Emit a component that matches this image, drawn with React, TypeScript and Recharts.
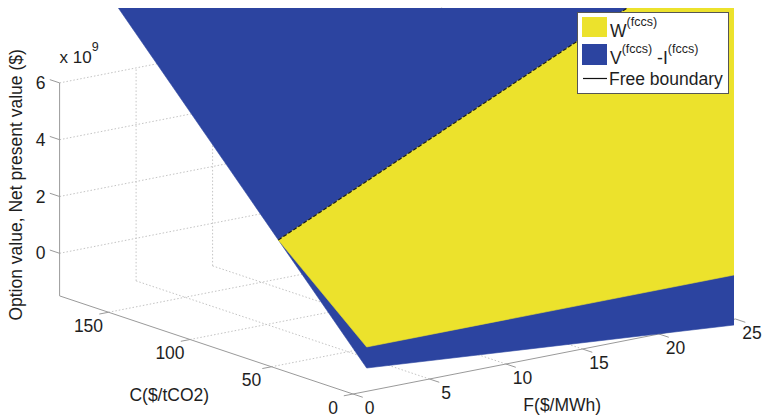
import { Scatter, ScatterChart, XAxis, YAxis } from "recharts";

const WIDTH = 764;
const HEIGHT = 419;
const FONT = "'Liberation Sans', Arial, Helvetica, sans-serif";

const BLUE = "#2c44a0";
const YELLOW = "#ece22c";
const GRID = "#c4c4c4";
const AXIS = "#9a9a9a";
const TEXT = "#1e1e1e";

// axis box limits (value axis in units of 1e9 $)
const F_LIM = [0, 25];
const C_LIM = [0, 180];
const Z_LIM = [-1.5, 6];

const F_TICKS = [0, 5, 10, 15, 20, 25];
const C_TICKS = [0, 50, 100, 150];
const Z_TICKS = [0, 2, 4, 6];

// surface grid corners — surfaces run past the F axis and get cut by the frame
const GRID_F = [1, 40];
const GRID_C = [1, 180];
// V(fccs) - I(fccs) at the low / high C edge, one value per GRID_F
const NPV_AT_C_MIN = [-0.71, -2.37];
const NPV_AT_C_MAX = [10.75, 9.09];
// W(fccs) along the low C edge
const OPTION_AT_C_MIN = [0.03, 0.03];
// free boundary C*(F) and the value on it (W = V - I there)
const BOUNDARY_C = [55.2, 150];
const BOUNDARY_Z = [2.76, 7.17];

type P3 = [number, number, number];

// oblique view of the 3-D box, chart units are px (v up)
const VIEW = { u0: 353, v0: 25, uF: 15.3, vF: 3.0, uC: -1.63, vC: 0.545, vZ: 28.4 };
const project = ([f, c, z]: P3) => ({
  x: VIEW.u0 + VIEW.uF * f + VIEW.uC * c,
  y: VIEW.v0 + VIEW.vF * f + VIEW.vC * c + VIEW.vZ * (z - Z_LIM[0]),
});

const [f0, f1] = F_LIM;
const [c0, c1] = C_LIM;
const [zMin, zMax] = Z_LIM;

const gridSegments: P3[][] = [
  ...Z_TICKS.map((z) => [[f0, c1, z], [f1, c1, z]] as P3[]),
  ...F_TICKS.slice(1).map((f) => [[f, c1, zMin], [f, c1, zMax]] as P3[]),
  ...F_TICKS.slice(1, -1).map((f) => [[f, c0, zMin], [f, c1, zMin]] as P3[]),
  ...C_TICKS.slice(1).map((c) => [[f0, c, zMin], [f1, c, zMin]] as P3[]),
];

const axisSegments: P3[][] = [
  [[f0, c1, zMin], [f0, c1, zMax]],
  [[f0, c0, zMin], [f0, c1, zMin]],
  [[f0, c0, zMin], [f1, c0, zMin]],
  ...Z_TICKS.map((z) => [[f0, c1, z], [f0, c1 + 6, z]] as P3[]),
  ...C_TICKS.map((c) => [[f0, c, zMin], [f0 - 0.6, c, zMin]] as P3[]),
  ...F_TICKS.map((f) => [[f, c0, zMin], [f, c0 - 6, zMin]] as P3[]),
];

const npvSurface: P3[] = [
  [GRID_F[0], GRID_C[0], NPV_AT_C_MIN[0]],
  [GRID_F[1], GRID_C[0], NPV_AT_C_MIN[1]],
  [GRID_F[1], GRID_C[1], NPV_AT_C_MAX[1]],
  [GRID_F[0], GRID_C[1], NPV_AT_C_MAX[0]],
];
const optionSurface: P3[] = [
  [GRID_F[0], GRID_C[0], OPTION_AT_C_MIN[0]],
  [GRID_F[1], GRID_C[0], OPTION_AT_C_MIN[1]],
  [GRID_F[1], BOUNDARY_C[1], BOUNDARY_Z[1]],
  [GRID_F[0], BOUNDARY_C[0], BOUNDARY_Z[0]],
];
const boundary: P3[] = GRID_F.map((f, i) => [f, BOUNDARY_C[i], BOUNDARY_Z[i]] as P3);

const noDot = () => <g />;

const polygon = (fill: string) => (p: any) => (
  <path
    d={p.points.map((q: any, i: number) => `${i ? "L" : "M"}${q.x},${q.y}`).join("") + "Z"}
    fill={fill}
    stroke={fill}
    strokeWidth={0.6}
  />
);

const textShape =
  (o: { dx: number; dy: number; anchor: string; size?: number; rotate?: boolean }) => (p: any) => {
    const x = p.cx + o.dx;
    const y = p.cy + o.dy;
    return (
      <text
        x={x}
        y={y}
        textAnchor={o.anchor}
        dominantBaseline="central"
        fontSize={o.size ?? 17.5}
        fontFamily={FONT}
        fill={TEXT}
        transform={o.rotate ? `rotate(-90 ${x} ${y})` : undefined}
      >
        {p.payload.text}
      </text>
    );
  };

const exponentShape = (p: any) => (
  <text x={p.cx} y={p.cy - 20} fontSize={17} fontFamily={FONT} fill={TEXT}>
    x 10
    <tspan dy={-12} fontSize={12.5}>
      9
    </tspan>
  </text>
);

const labels = (pts: P3[], texts: string[]) => pts.map((p, i) => ({ ...project(p), text: texts[i] }));

function Axes3D() {
  return (
    <ScatterChart width={WIDTH} height={HEIGHT} margin={{ top: 0, right: 0, bottom: 0, left: 0 }}>
      <XAxis type="number" dataKey="x" domain={[0, WIDTH]} allowDataOverflow hide />
      <YAxis type="number" dataKey="y" domain={[0, HEIGHT]} allowDataOverflow hide />
      {gridSegments.map((s, i) => (
        <Scatter
          key={`g${i}`}
          data={s.map(project)}
          line={{ stroke: GRID, strokeWidth: 1, strokeDasharray: "1.5 2" }}
          lineType="joint"
          shape={noDot}
          isAnimationActive={false}
        />
      ))}
      {axisSegments.map((s, i) => (
        <Scatter
          key={`a${i}`}
          data={s.map(project)}
          line={{ stroke: AXIS, strokeWidth: 1 }}
          lineType="joint"
          shape={noDot}
          isAnimationActive={false}
        />
      ))}
      <Scatter
        data={labels(Z_TICKS.map((z) => [f0, c1, z] as P3), Z_TICKS.map(String))}
        shape={textShape({ dx: -14, dy: 0, anchor: "end" })}
        isAnimationActive={false}
      />
      <Scatter
        data={labels(C_TICKS.map((c) => [f0, c, zMin] as P3), C_TICKS.map(String))}
        shape={textShape({ dx: -20, dy: 13.5, anchor: "middle" })}
        isAnimationActive={false}
      />
      <Scatter
        data={labels(F_TICKS.map((f) => [f, c0, zMin] as P3), F_TICKS.map(String))}
        shape={textShape({ dx: 16.5, dy: 13.5, anchor: "middle" })}
        isAnimationActive={false}
      />
      <Scatter
        data={labels([[f0, c1, 2.25]], ["Option value, Net present value ($)"])}
        shape={textShape({ dx: -44, dy: -4.5, anchor: "middle", rotate: true })}
        isAnimationActive={false}
      />
      <Scatter
        data={labels([[f0, 90, zMin]], ["C($/tCO2)"])}
        shape={textShape({ dx: -37, dy: 50.5, anchor: "middle" })}
        isAnimationActive={false}
      />
      <Scatter
        data={labels([[12.5, c0, zMin]], ["F($/MWh)"])}
        shape={textShape({ dx: 18, dy: 48.5, anchor: "middle" })}
        isAnimationActive={false}
      />
      <Scatter data={[project([f0, c1, zMax])]} shape={exponentShape} isAnimationActive={false} />
    </ScatterChart>
  );
}

const CLIP_RIGHT = 734;
const CLIP_TOP = 8;

function Surfaces() {
  const h = HEIGHT - CLIP_TOP;
  return (
    <ScatterChart width={CLIP_RIGHT} height={h} margin={{ top: 0, right: 0, bottom: 0, left: 0 }}>
      <XAxis type="number" dataKey="x" domain={[0, CLIP_RIGHT]} allowDataOverflow hide />
      <YAxis type="number" dataKey="y" domain={[0, h]} allowDataOverflow hide />
      <Scatter data={npvSurface.map(project)} line={polygon(BLUE)} lineType="joint" shape={noDot} isAnimationActive={false} />
      <Scatter data={optionSurface.map(project)} line={polygon(YELLOW)} lineType="joint" shape={noDot} isAnimationActive={false} />
      <Scatter
        data={boundary.map(project)}
        line={{ stroke: "#1a1a1a", strokeWidth: 1.2, strokeDasharray: "4 2" }}
        lineType="joint"
        shape={noDot}
        isAnimationActive={false}
      />
    </ScatterChart>
  );
}

function LegendBox() {
  return (
    <svg width={WIDTH} height={HEIGHT} style={{ position: "absolute", left: 0, top: 0, pointerEvents: "none" }}>
      <g fontFamily={FONT} fill={TEXT}>
        <rect x={577.5} y={12.5} width={151} height={81} fill="#fff" stroke="#555" strokeWidth={1} />
        <rect x={582} y={17} width={25} height={20} fill={YELLOW} />
        <text x={610} y={37} fontSize={17.5}>
          W
          <tspan dy={-11} fontSize={12.5}>
            (fccs)
          </tspan>
        </text>
        <rect x={582} y={44} width={25} height={21} fill={BLUE} />
        <text x={610} y={64} fontSize={17.5}>
          V
          <tspan dy={-11} fontSize={12.5}>
            (fccs)
          </tspan>
          <tspan dy={11}> -I</tspan>
          <tspan dy={-11} fontSize={12.5}>
            (fccs)
          </tspan>
        </text>
        <line x1={583} x2={607} y1={78.5} y2={78.5} stroke="#111" strokeWidth={1.2} />
        <text x={609} y={85} fontSize={17.5}>
          Free boundary
        </text>
      </g>
    </svg>
  );
}

export default function App() {
  return (
    <div style={{ position: "absolute", left: 0, top: 0, width: WIDTH, height: HEIGHT, background: "#fff", overflow: "hidden" }}>
      <div style={{ position: "absolute", left: 0, top: 0 }}>
        <Axes3D />
      </div>
      <div style={{ position: "absolute", left: 0, top: CLIP_TOP }}>
        <Surfaces />
      </div>
      <LegendBox />
    </div>
  );
}
